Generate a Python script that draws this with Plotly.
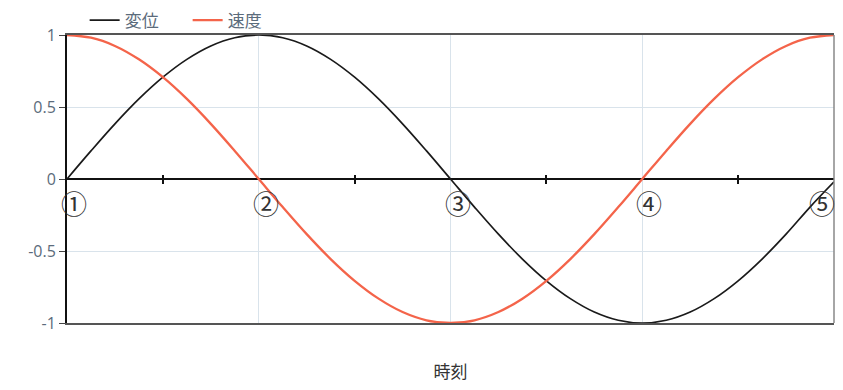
import plotly.graph_objects as go

# time in quarter periods (① = 0 ... ⑤ = 4), read every 1/8 quarter
t = [0, 0.125, 0.25, 0.375, 0.5, 0.625, 0.75, 0.875,
     1, 1.125, 1.25, 1.375, 1.5, 1.625, 1.75, 1.875,
     2, 2.125, 2.25, 2.375, 2.5, 2.625, 2.75, 2.875,
     3, 3.125, 3.25, 3.375, 3.5, 3.625, 3.75, 3.875, 4]

displacement = [0.00, 0.195, 0.383, 0.556, 0.707, 0.831, 0.924, 0.981,
                1.00, 0.981, 0.924, 0.831, 0.707, 0.556, 0.383, 0.195,
                0.00, -0.195, -0.383, -0.556, -0.707, -0.831, -0.924, -0.981,
                -1.00, -0.981, -0.924, -0.831, -0.707, -0.556, -0.383, -0.195, -0.02]

velocity = [1.00, 0.981, 0.924, 0.831, 0.707, 0.556, 0.383, 0.195,
            0.00, -0.195, -0.383, -0.556, -0.707, -0.831, -0.924, -0.981,
            -1.00, -0.981, -0.924, -0.831, -0.707, -0.556, -0.383, -0.195,
            0.00, 0.195, 0.383, 0.556, 0.707, 0.831, 0.924, 0.981, 1.00]

moment_pos = [0, 1, 2, 3, 4]
moment_labels = ["①", "②", "③", "④", "⑤"]
minor_ticks = [0.5, 1.5, 2.5, 3.5]
y_ticks = [-1, -0.5, 0, 0.5, 1]
y_labels = ["-1", "-0.5", "0", "0.5", "1"]

LABEL_COLOR = "#5b6b7b"
RED = "#f4644a"

fig = go.Figure()
fig.add_trace(go.Scatter(x=t, y=displacement, name="変位", mode="lines",
                         line=dict(color="#1a1a1a", width=1.7, shape="spline")))
fig.add_trace(go.Scatter(x=t, y=velocity, name="速度", mode="lines",
                         line=dict(color=RED, width=2.3, shape="spline")))

# minor ticks crossing the zero line
for ax_name in ("x2", "x3"):
    fig.add_trace(go.Scatter(x=[0, 4], y=[None, None], xaxis=ax_name,
                             showlegend=False, hoverinfo="skip"))

for pos, lab in zip(moment_pos, moment_labels):
    last = pos == moment_pos[-1]
    fig.add_annotation(x=pos, y=0, text=lab, showarrow=False,
                       xanchor="right" if last else "left", yanchor="top",
                       xshift=3 if last else -8, yshift=-3,
                       font=dict(family="Noto Sans CJK JP", size=26, color="#333333"))

fig.add_shape(type="line", xref="paper", yref="paper", x0=1, x1=1, y0=0, y1=1,
              line=dict(color="#888888", width=1.5))

# page body has a small default margin, so the figure is a bit smaller than the window
fig.update_layout(
    width=835, height=382,
    margin=dict(l=59, r=9, t=27, b=67, autoexpand=False),
    paper_bgcolor="white", plot_bgcolor="white",
    showlegend=True,
    legend=dict(orientation="h", x=0.023, y=1.05, xanchor="left", yanchor="middle",
                font=dict(family="Noto Sans CJK JP", size=17, color=LABEL_COLOR),
                entrywidth=58, tracegroupgap=0, bgcolor="rgba(0,0,0,0)"),
    xaxis=dict(range=[0, 4], showticklabels=False, ticks="", showgrid=True,
               tickvals=[1, 2, 3], gridcolor="#d9e3eb", gridwidth=1,
               showline=True, linecolor="#555555", linewidth=1.5, mirror=True,
               zeroline=False, automargin=False,
               title=dict(text="時刻", standoff=42,
                          font=dict(family="Noto Sans CJK JP", size=17, color="#333333"))),
    xaxis2=dict(range=[0, 4], overlaying="x", anchor="free", position=0.5,
                tickvals=minor_ticks, ticks="outside", ticklen=4, tickwidth=2,
                tickcolor="#111111", showticklabels=False, showgrid=False,
                showline=False, zeroline=False, automargin=False),
    xaxis3=dict(range=[0, 4], overlaying="x", anchor="free", position=0.5,
                tickvals=minor_ticks, ticks="inside", ticklen=4, tickwidth=2,
                tickcolor="#111111", showticklabels=False, showgrid=False,
                showline=False, zeroline=False, automargin=False),
    yaxis=dict(range=[-1, 1], tickvals=y_ticks, ticktext=y_labels,
               ticks="outside", ticklen=6, tickcolor="#444444", automargin=False,
               tickfont=dict(family="Open Sans", size=16, color=LABEL_COLOR),
               showgrid=True, gridcolor="#d9e3eb", gridwidth=1,
               zeroline=True, zerolinecolor="#111111", zerolinewidth=2,
               showline=True, linecolor="#111111", linewidth=2),
)

fig.write_html("out.html")
